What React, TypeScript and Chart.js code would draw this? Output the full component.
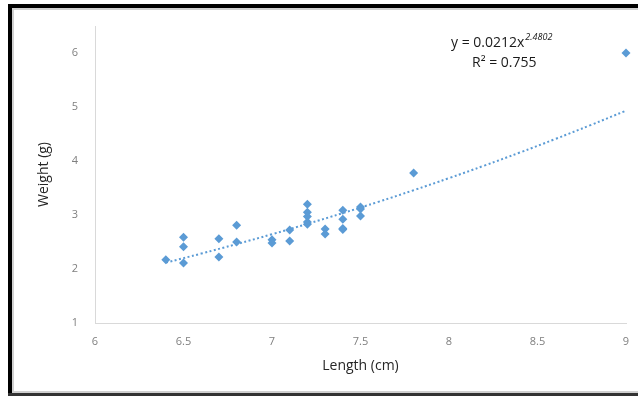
import React, { useEffect, useRef } from "react";
import { Chart, registerables } from "chart.js";

Chart.register(...registerables);

const lengths = [6.4, 6.5, 6.5, 6.5, 6.7, 6.7, 6.8, 6.8, 7.0, 7.0, 7.1, 7.1, 7.2, 7.2, 7.2, 7.2, 7.2, 7.3, 7.3, 7.4, 7.4, 7.4, 7.4, 7.5, 7.5, 7.5, 7.8, 9.0];
const weights = [2.17, 2.59, 2.41, 2.11, 2.56, 2.22, 2.81, 2.5, 2.54, 2.48, 2.72, 2.52, 3.2, 3.05, 2.97, 2.87, 2.83, 2.74, 2.65, 3.09, 2.92, 2.75, 2.73, 3.15, 3.11, 2.98, 3.78, 6.0];

const trendCoef = 0.0212;
const trendExp = 2.4802;
const rSquared = "0.755";
const trendSampleX = [6.4, 6.6, 6.8, 7.0, 7.2, 7.4, 7.6, 7.8, 8.0, 8.2, 8.4, 8.6, 8.8, 9.0];

const xTitle = "Length (cm)";
const yTitle = "Weight (g)";

const BLUE = "#5b9bd5";
const FONT = "'Open Sans', 'Liberation Sans', sans-serif";

const decorPlugin = {
  id: "decor",
  afterDraw(chart: any) {
    const ctx = chart.ctx;
    ctx.save();
    // frame
    ctx.fillStyle = "#d0d0d0";
    ctx.fillRect(8, 8, 630, 2);
    ctx.fillRect(12, 4, 2, 392);
    ctx.fillRect(8, 391, 630, 2);
    ctx.fillStyle = "#000000";
    ctx.fillRect(8, 4, 630, 4);
    ctx.fillRect(8, 4, 4, 392);
    ctx.fillStyle = "#333333";
    ctx.fillRect(8, 393, 630, 3);

    // equation text
    ctx.fillStyle = "#1a1a1a";
    ctx.textBaseline = "alphabetic";
    ctx.textAlign = "left";
    ctx.font = `14px ${FONT}`;
    const eq = `y = ${trendCoef}x`;
    ctx.fillText(eq, 451, 47);
    const w = ctx.measureText(eq).width;
    ctx.font = `italic 9px ${FONT}`;
    ctx.fillText(String(trendExp), 451 + w + 1, 40);
    ctx.font = `14px ${FONT}`;
    ctx.fillText(`R² = ${rSquared}`, 472, 67);
    ctx.restore();
  },
};

export default function App() {
  const ref = useRef<HTMLCanvasElement>(null);

  useEffect(() => {
    const trendData = trendSampleX.map((x) => ({ x, y: trendCoef * Math.pow(x, trendExp) }));
    const chart = new Chart(ref.current!, {
      type: "scatter",
      data: {
        datasets: [
          {
            label: "Weight",
            data: lengths.map((x, i) => ({ x, y: weights[i] })),
            pointStyle: "rectRot",
            pointRadius: 4.5,
            backgroundColor: BLUE,
            borderColor: BLUE,
            borderWidth: 0,
            clip: false,
            order: 1,
          } as any,
          {
            type: "line",
            label: "Trend",
            data: trendData,
            borderColor: BLUE,
            borderWidth: 2,
            borderDash: [2, 2.5],
            pointRadius: 0,
            fill: false,
            tension: 0.4,
            order: 2,
          } as any,
        ],
      },
      options: {
        animation: false,
        responsive: false,
        layout: { padding: { left: 0, top: 26, right: 12, bottom: 0 } },
        plugins: { legend: { display: false }, tooltip: { enabled: false } },
        scales: {
          x: {
            type: "linear",
            min: 6,
            max: 9,
            ticks: {
              stepSize: 0.5,
              color: "#7f7f7f",
              padding: 12,
              font: { size: 11, family: FONT },
              callback: (v: any) => `${v}`,
            },
            grid: { display: true, drawOnChartArea: false, drawTicks: false },
            border: { display: true, color: "#d9d9d9", width: 1 },
            title: {
              display: true,
              text: xTitle,
              color: "#262626",
              font: { size: 14, family: FONT },
              padding: { top: 0, bottom: 22 },
            },
            afterFit: (s: any) => {
              s.height = 73;
              s.paddingLeft = 0;
              s.paddingRight = 0;
            },
          },
          y: {
            type: "linear",
            min: 1,
            max: 6.5,
            ticks: {
              stepSize: 1,
              color: "#7f7f7f",
              padding: 17,
              font: { size: 11, family: FONT },
              callback: (v: any) => `${v}`,
            },
            afterBuildTicks: (s: any) => {
              s.ticks = s.ticks.filter((t: any) => Number.isInteger(t.value));
            },
            grid: { display: true, drawOnChartArea: false, drawTicks: false },
            border: { display: true, color: "#d9d9d9", width: 1 },
            title: {
              display: true,
              text: yTitle,
              color: "#262626",
              font: { size: 14, family: FONT },
              padding: { top: 36, bottom: 0 },
            },
            afterFit: (s: any) => {
              s.width = 95;
              s.paddingTop = 0;
              s.paddingBottom = 0;
            },
          },
        },
      },
      plugins: [decorPlugin],
    });
    return () => chart.destroy();
  }, []);

  return (
    <div style={{ position: "fixed", left: 0, top: 0, width: 638, height: 396, background: "#fff" }}>
      <canvas ref={ref} width={638} height={396} style={{ display: "block" }} />
    </div>
  );
}
